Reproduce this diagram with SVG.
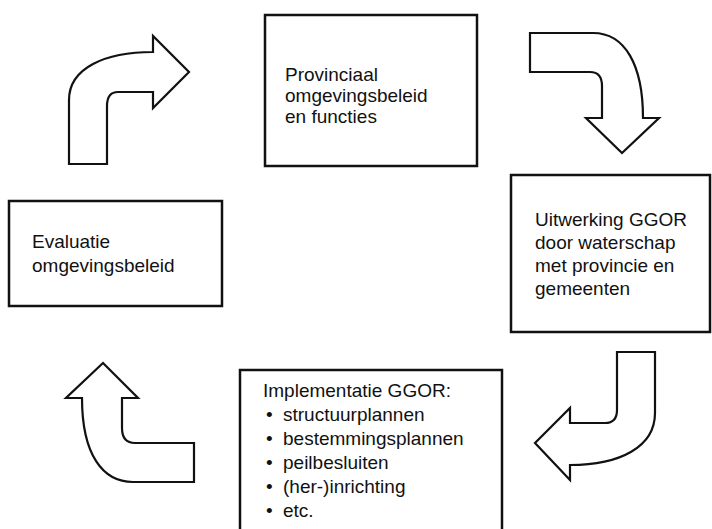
<svg xmlns="http://www.w3.org/2000/svg" width="712" height="529" viewBox="0 0 712 529">
<style>
.box{fill:#fff;stroke:#111;stroke-width:2.5}
.arr{fill:#fff;stroke:#111;stroke-width:2.2;stroke-linejoin:miter}
text{font-family:"Liberation Sans",Arial,sans-serif;font-size:19px;fill:#111}
</style>
<rect width="712" height="529" fill="#fff"/>
<g id="connectors">
<path class="arr" d="M69,164 L69,100 C69,68 105,52 153,52 L153,36 L189,72 L153,108 L153,92 L118,92 Q107,92 107,106 L107,164 Z"/>
<path class="arr" d="M530,33 L593,33 C625,33 643,65 643,118 L659,118 L622,153 L586,118 L602,118 L602,86 Q602,72 590,72 L530,72 Z"/>
<path class="arr" d="M655,352 L655,413 C655,447 620,465 570,465 L570,480 L535,443 L570,408 L570,423 L605,423 Q617,423 617,410 L617,352 Z"/>
<path class="arr" d="M194,443 L194,482 L133,482 C103,482 82,455 82,398 L66,398 L103,363 L138,398 L122,398 L122,428 Q122,443 135,443 Z"/>
</g>
<g id="node-provinciaal">
<rect class="box" x="265" y="15" width="212" height="151"/>
<text x="285" y="81">Provinciaal</text>
<text x="285" y="102">omgevingsbeleid</text>
<text x="285" y="123">en functies</text>
</g>
<g id="node-uitwerking">
<rect class="box" x="511" y="175" width="199" height="157"/>
<text x="535" y="226">Uitwerking GGOR</text>
<text x="535" y="249">door waterschap</text>
<text x="535" y="272">met provincie en</text>
<text x="535" y="295">gemeenten</text>
</g>
<g id="node-implementatie">
<rect class="box" x="240" y="370" width="262" height="170"/>
<text x="263" y="397">Implementatie GGOR:</text>
<text x="266" y="421">•</text><text x="283" y="421">structuurplannen</text>
<text x="266" y="445">•</text><text x="283" y="445">bestemmingsplannen</text>
<text x="266" y="469">•</text><text x="283" y="469">peilbesluiten</text>
<text x="266" y="493">•</text><text x="283" y="493">(her-)inrichting</text>
<text x="266" y="517">•</text><text x="283" y="517">etc.</text>
</g>
<g id="node-evaluatie">
<rect class="box" x="9" y="201" width="213" height="105"/>
<text x="32" y="248">Evaluatie</text>
<text x="32" y="272">omgevingsbeleid</text>
</g>
</svg>
